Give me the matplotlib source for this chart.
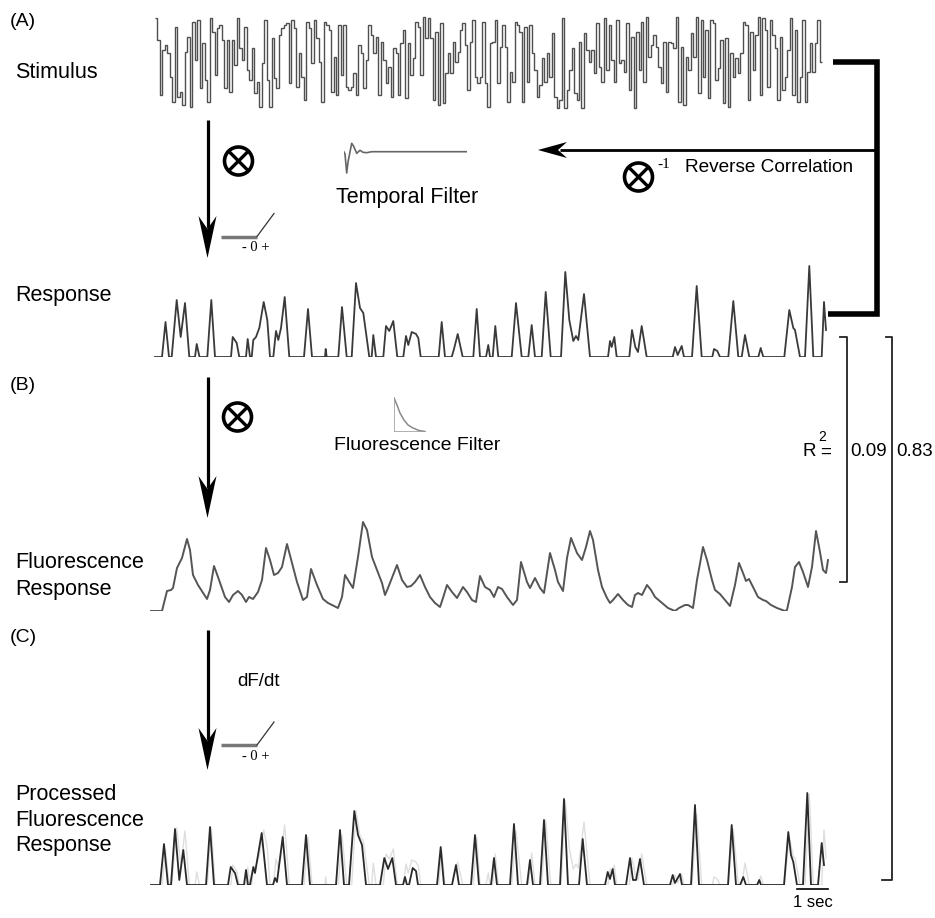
import numpy as np
import matplotlib
matplotlib.use("Agg")
from matplotlib import pyplot as plt
from matplotlib.patches import Circle

plt.rcParams['font.family'] = ['Liberation Sans', 'DejaVu Sans']

W, H = 935, 918
FS = 31  # samples per second

# stimulus intensity (0-100), one value per frame
stim_a = [92,70,15,60,65,57,33,8,83,13,18,5,58,73,3,88,50,90,22,67,30,8,92,78,35,82,85,70,22,70,
          18,70,45,92,62,50,83,40,30,62,17,28,3,47,90,30,3,72,32,22,75,82,85,87,27,90,82,23,57,33,
          10,88,82,47,90,72,48,8,88,85,80,18,53,15,85,35,85,23,20,23,37,15,65,57,22,50,85,75,57,73,
          15,68,50,27,43,13,62,57,15,67,80,12,67,35,52,88,83,35,93,72,92,72,10,78,5,87,7,37,57,37,
          68,48,58,80,87,65,20,68,90,33,27]
stim_b = [33,88,27,3,67,68,90,27,63,85,63,8,38,28,88,85,78,8,83,28,85,57,40,13,25,52,28,57,33,77,
          13,2,10,92,2,20,40,62,17,10,68,2,77,60,48,60,37,87,43,28,92,40,85,50,28,90,47,50,38,87,
          20,73,2,78,40,88,28,93,53,65,75,63,43,27,68,18,68,67,62,93,8,63,5,53,40,77,53,93,17,90,
          33,80,12,90,87,30,42,70,7,72,3,57,33,52,37,57,88,85,10,78,40,75,93,15,92,80,23,90,75,62,
          10,73,20,33,60,92,15,80,8,33,90,8,38,67,38,67,90,48]
stim = stim_a + stim_b

# model response (sample, amplitude)
resp = [(5,0),(12,0),(15.5,35),(19,0),(21.7,0),(26.7,57),(30.7,20),(35,54),(39.3,0),
        (45,0),(46.7,13),(49.5,0),(57.3,0),(61.3,57),(65,0),(81,0),(82.7,20),(86.7,14),(89.3,0),
        (96,0),(97.7,18),(100,0),(101.7,0),(103.3,17),(106,20),(109.3,29),(113.7,55),(117.3,37),(120,0),
        (123.3,0),(126,26),(128.3,17),(131,29),(134.7,60),(139.3,0),(154,0),(158,48),(162,0),
        (175,0),(175.7,8),(176.7,0),(188.3,0),(192,50),(196.7,0),
        (201.7,0),(206,74),(210,49),(213.3,44),(219.3,0),(221.7,0),(223.3,22),(226,0),
        (233.3,0),(236,31),(239.3,26),(243.3,36),(247.3,0),
        (253.3,0),(256,21),(258.3,12),(261.7,25),(266,23),(268.3,19),(270.7,0),
        (288.7,0),(291.7,35),(295,0),(301.7,0),(304,8),(307.7,23),(312.7,0),
        (323.3,0),(326.7,48),(330,0),(336,0),(338.3,12),(340,0),(342.7,0),(345.3,31),(348.3,0),
        (361.7,0),(366,54),(371.7,0),(378.3,0),(381.7,32),(385,0),(391.7,0),(395.7,65),(400.7,0),
        (411,0),(415.3,85),(419.3,37),(423.3,16),(426,21),(428.3,17),(434,63),(440,0),
        (458,0),(460,16),(461.7,10),(464.3,20),(466.7,0),
        (479.3,0),(482,27),(485.3,10),(488,5),(491.7,31),(496.7,0),
        (522.7,0),(525,10),(527.7,2),(531.7,11),(534,0),(542,0),(546.7,71),(551.7,0),
        (562.3,0),(564,8),(567.3,6),(570,0),(578.3,0),(583.3,56),(588.3,0),
        (591.7,0),(595,22),(599.3,0),(608.3,0),(610.7,9),(613.3,0),
        (634.3,0),(639.3,47),(643.3,29),(645,27),(650,0),(655,0),(659.3,91),(663.3,0),
        (671.7,0),(674,55),(676,27)]

# fluorescence response (sample, amplitude)
fluor = [(0,0),(12,0),(17,20),(21,21),(23,23),(27,43),(32,53),(37,72),(40,61),(43,36),(48,26),
         (57,12),(60,21),(64,45),(68,34),(75,14),(79,9),(83,16),(88,20),(92,16),(96,9),(99,14),
         (103,12),(108,19),(112,31),(116,63),(120,51),(124,36),(128,38),(132,44),(137,67),(142,48),
         (147,29),(153,11),(157,14),(161,42),(167,26),(173,12),(178,8),(188,3),(192,14),(195,36),
         (198,31),(203,23),(208,54),(213,89),(217,81),(222,54),(227,41),(232,28),(235,16),(238,23),
         (247,46),(252,31),(257,24),(261,25),(265,29),(270,36),(275,24),(280,14),(285,8),(290,4),
         (293,13),(297,26),(302,19),(307,13),(313,24),(317,19),(322,11),(326,9),(330,35),(335,24),
         (340,21),(344,14),(348,24),(352,22),(357,14),(363,6),(367,11),(371,49),(377,29),(380,23),
         (385,33),(390,23),(394,18),(400,58),(405,41),(408,29),(413,20),(417,53),(421,73),(427,58),
         (432,51),(436,64),(440,80),(443,71),(448,41),(452,24),(457,13),(460,8),(463,11),(468,17),
         (473,11),(478,6),(482,4),(485,16),(488,18),(492,16),(497,26),(501,21),(505,14),(512,8),
         (518,3),(525,0),(529,3),(535,6),(538,6),(543,3),(547,31),(553,64),(557,51),(562,31),
         (565,21),(570,17),(575,11),(580,5),(585,26),(589,48),(593,38),(596,30),(599,32),(603,24),
         (608,14),(613,11),(616,10),(621,6),(627,3),(635,0),(637,1),(642,24),(645,44),(649,49),
         (653,39),(658,24),(662,44),(666,80),(670,59),(673,41),(676,38),(678,51)]

# processed fluorescence, rectified dF/dt (sample, amplitude)
proc = [(0,0),(10,0),(14,41),(18,0),(21,0),(25,56),(29.3,5),(33.3,35),(37,0),(56,0),(60,58),(64,0),
        (78,0),(80.7,18),(85,12),(88,0),(94,0),(96,15),(98,0),(100,0),(103.3,18),(105,12),(111.7,52),(117,0),
        (123,0),(125,7),(127,3),(132.7,48),(137,0),(152,0),(156,50),(160,0),(186,0),(190,55),(194,0),
        (199,0),(204.3,74),(208,50),(212,40),(216,0),(230,0),(234.3,27),(238,16),(242.3,27),(246,0),
        (253,0),(255,8),(257,0),(259,0),(262.7,17),(266,14),(268,0),(287,0),(290.7,38),(294,0),
        (302,0),(306,20),(309,0),(321,0),(325,50),(329,0),(341,0),(344,27),(347,0),
        (360,0),(364,61),(368,0),(377,0),(380,25),(383,0),(390,0),(394,65),(398,0),
        (410,0),(414,86),(418,0),(429,0),(432.7,46),(437,0),
        (455,0),(457.7,13),(460,6),(462.7,16),(465,0),(476,0),(480,27),(483,5),(486,5),(490,26),(494,0),
        (520,0),(522.7,10),(525,2),(530,11),(532,0),(541,0),(545,80),(549,0),
        (578,0),(581.7,60),(586,0),(590,0),(593.3,8),(596,0),(607,0),(609.3,5),(611,0),
        (634,0),(638.3,53),(641,30),(643.3,23),(647,0),(653,0),(657.3,92),(661,0),
        (668,0),(671.7,42),(674,20)]

# temporal filter and fluorescence filter kernels (sample, amplitude)
tfilt = [(0,0),(1,-2),(2.7,-21),(4,-10),(7.7,8.7),(9.5,6),(12.7,-1.3),(16,1.7),(19,-0.3),
         (22.7,-0.7),(27.7,0.3),(122.7,0.3)]
ffilt = [(0,34),(3,27),(6,19),(10,12),(14,7),(19,4),(25,1.5),(31,0.5)]

r2_vals = ['0.09', '0.83']

fig = plt.figure(figsize=(W/100, H/100), dpi=100)
ov = fig.add_axes([0, 0, 1, 1])
ov.set_xlim(0, W)
ov.set_ylim(H, 0)
ov.axis('off')


def trace_ax(x0, x1, top, bottom, ylim):
    ax = fig.add_axes([x0/W, 1 - bottom/H, (x1 - x0)/W, (bottom - top)/H])
    ax.set_xlim(0, x1 - x0)
    ax.set_ylim(*ylim)
    ax.axis('off')
    return ax


# stimulus
ax = trace_ax(150, 830, 10, 110, (0, 100))
edges = np.linspace(5, 672, len(stim) + 1)
ax.stairs(stim, edges, color='#4f4f4f', lw=1.0, baseline=None)

# response
r = np.array(resp).T
ax = trace_ax(150, 830, 257, 357, (0, 100))
ax.plot(r[0], r[1], color='#3a3a3a', lw=1.3)

# fluorescence
f = np.array(fluor).T
ax = trace_ax(150, 830, 511, 611, (0, 100))
ax.plot(f[0], f[1], color='#555555', lw=1.4)

# processed
p = np.array(proc).T
ax = trace_ax(150, 830, 785, 885, (0, 100))
ax.plot(r[0], r[1], color='#dedede', lw=1.0)
ax.plot(p[0], p[1], color='#2a2a2a', lw=1.3)
ax.plot([678 - FS, 678], [-4, -4], color='k', lw=1.2, clip_on=False)
ax.text(678 - FS/2, -10, '1 sec', ha='center', va='top', fontsize=12)

# temporal filter
tf = np.array(tfilt).T
ax = trace_ax(344, 467, 135, 180, (-28, 17))
ax.plot(tf[0], tf[1], color='#666666', lw=1.2)

# fluorescence filter
ff = np.array(ffilt).T
ax = trace_ax(394, 426, 396, 432, (0, 36))
ax.plot(ff[0], ff[1], color='#8a8a8a', lw=1.1)
ax.plot([0, 0, 31], [34, 0, 0], color='#9a9a9a', lw=1.1)

# labels
lab = dict(fontsize=15.5, va='center', ha='left')
ov.text(10, 22, '(A)', fontsize=14, va='center', ha='left')
ov.text(15, 72, 'Stimulus', **lab)
ov.text(15, 296, 'Response', **lab)
ov.text(10, 385, '(B)', fontsize=14, va='center', ha='left')
ov.text(15, 563, 'Fluorescence', **lab)
ov.text(15, 589, 'Response', **lab)
ov.text(10, 637, '(C)', fontsize=14, va='center', ha='left')
ov.text(15, 794, 'Processed', **lab)
ov.text(15, 820, 'Fluorescence', **lab)
ov.text(15, 846, 'Response', **lab)
ov.text(407, 197, 'Temporal Filter', fontsize=15.5, ha='center', va='center')
ov.text(417, 446, 'Fluorescence Filter', fontsize=14, ha='center', va='center')
ov.text(685, 168, 'Reverse Correlation', fontsize=13.7, ha='left', va='center')
ov.text(237, 681, 'dF/dt', fontsize=13.5, ha='left', va='center')


def down_arrow(x, y0, y1):
    ov.plot([x, x], [y0, y1 - 30], color='k', lw=2.3, solid_capstyle='butt')
    ov.fill([x, x - 9, x, x + 9], [y1, y1 - 42, y1 - 29, y1 - 42], color='k', lw=0)


down_arrow(207.5, 120, 258)
down_arrow(207.5, 377, 518)
down_arrow(207.5, 630, 770)

# reverse correlation arrow
ov.plot([876, 560], [150, 150], color='k', lw=2.0, solid_capstyle='butt')
ov.fill([538, 567, 558, 567], [150, 142, 150, 158], color='k', lw=0)

# thick bracket
ov.plot([833, 876.5, 876.5, 828], [62, 62, 314, 314], color='k', lw=4.0,
        solid_joinstyle='miter', solid_capstyle='butt')


def otimes(cx, cy, rad=14):
    ov.add_patch(Circle((cx, cy), rad, fill=False, ec='k', lw=2.6))
    d = rad * 0.68
    ov.plot([cx - d, cx + d], [cy - d, cy + d], color='k', lw=2.4)
    ov.plot([cx - d, cx + d], [cy + d, cy - d], color='k', lw=2.4)


otimes(238.5, 161)
otimes(638.5, 177)
otimes(237.5, 417)
ov.text(657, 164, '-1', fontsize=11, family='Liberation Serif', ha='left', va='center')


def rectifier(x0, y0):
    ov.plot([x0, x0 + 36], [y0, y0], color='#777777', lw=2.5, solid_capstyle='butt')
    ov.plot([x0 + 36, x0 + 53], [y0, y0 - 23], color='#333333', lw=0.9)
    ov.text(x0 + 35, y0 + 11, '- 0 +', fontsize=10.5, family='Liberation Serif',
            ha='center', va='center')


rectifier(221, 236.5)
rectifier(221, 745)

# R^2 brackets
ov.plot([840, 846.5, 846.5, 840], [337, 337, 581.5, 581.5], color='#222222', lw=1.3)
ov.plot([886, 891.5, 891.5, 882], [337, 337, 880, 880], color='#222222', lw=1.3)
ov.text(803, 452, 'R', fontsize=13.5, ha='left', va='center')
ov.text(818, 437, '2', fontsize=10, ha='left', va='center')
ov.text(820, 452, '=', fontsize=13.5, ha='left', va='center')
ov.text(850, 452, r2_vals[0], fontsize=13.5, ha='left', va='center')
ov.text(896, 452, r2_vals[1], fontsize=13.5, ha='left', va='center')

fig.savefig('out.png', dpi=100)
